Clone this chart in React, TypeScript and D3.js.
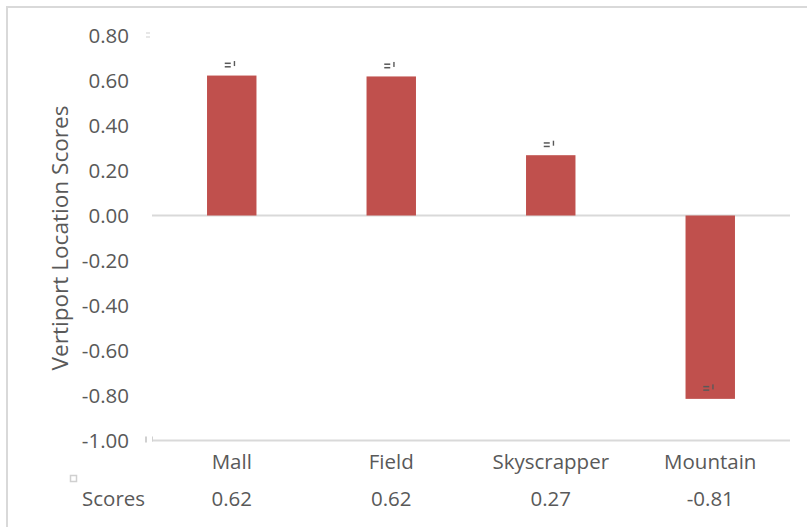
import React from "react";
import * as d3 from "d3";

const categories = ["Mall", "Field", "Skyscrapper", "Mountain"];
const scores = [0.622, 0.618, 0.268, -0.815];
const scoreLabels = ["0.62", "0.62", "0.27", "-0.81"];
const yTicks = [0.8, 0.6, 0.4, 0.2, 0, -0.2, -0.4, -0.6, -0.8, -1.0];
const seriesName = "Scores";
const yTitle = "Vertiport Location Scores";

const W = 807;
const H = 527;
const FONT = "'Open Sans', sans-serif";
const TXT = "#595959";
const fmt = (t: number) => d3.format(".2f")(t).replace("\u2212", "-");

export default function App() {
  const left = 152;
  const right = 790;
  const y = d3.scaleLinear().domain([-1, 0.8]).range([440.5, 35.5]);
  const x = d3.scaleBand().domain(categories).range([left, right]).paddingInner(0.69).paddingOuter(0.345);
  const xc = d3.scaleBand().domain(categories).range([left, right]);
  return (
    <div style={{ position: "absolute", left: 0, top: 0, width: W, height: H, background: "#fff" }}>
      <svg width={W} height={H} style={{ display: "block" }} fontFamily={FONT}>
        <rect x={7} y={7} width={W + 10} height={H + 10} fill="#fff" stroke="#d9d9d9" strokeWidth={2} />
        <line x1={left} x2={right} y1={y(0)} y2={y(0)} stroke="#d9d9d9" strokeWidth={2} />
        <line x1={left} x2={right} y1={y(-1)} y2={y(-1)} stroke="#d9d9d9" strokeWidth={2} />
        <rect x={146} y={y(0.8) - 3} width={4} height={1} fill="#d0d0d0" />
        <rect x={146} y={y(0.8) + 1} width={4} height={1} fill="#d0d0d0" />
        <rect x={145} y={y(-1) - 4} width={2} height={6} fill="#d0d0d0" />
        <rect x={152} y={y(-1) - 4} width={1} height={5} fill="#d0d0d0" />
        {yTicks.map((t) => (
          <text key={t} x={129} y={y(t)} dy="0.36em" textAnchor="end" fontSize={20.5} fill={TXT}>
            {fmt(t)}
          </text>
        ))}
        <text
          transform={`translate(68,${(y(0.8) + y(-1)) / 2}) rotate(-90)`}
          textAnchor="middle"
          fontSize={22.6}
          fill={TXT}
        >
          {yTitle}
        </text>
        {categories.map((c, i) => {
          const v = scores[i];
          const bx = x(c)!;
          const top = y(Math.max(0, v));
          const bot = y(Math.min(0, v));
          const markY = v >= 0 ? top - 13 : bot - 13;
          const cx = bx + x.bandwidth() / 2;
          return (
            <g key={c}>
              <rect x={bx} y={top} width={x.bandwidth()} height={bot - top} fill="#c0504d" />
              <rect x={cx - 7} y={markY} width={6} height={1.5} fill="#595959" />
              <rect x={cx - 7} y={markY + 3.5} width={6} height={1.5} fill="#595959" />
              <rect x={cx + 2} y={markY - 1.5} width={1.4} height={5} fill="#595959" />
              <text x={xc(c)! + xc.bandwidth() / 2} y={y(-1) + 28} textAnchor="middle" fontSize={20.5} fill={TXT}>
                {c}
              </text>
              <text x={xc(c)! + xc.bandwidth() / 2} y={y(-1) + 65} textAnchor="middle" fontSize={20.5} fill={TXT}>
                {scoreLabels[i]}
              </text>
            </g>
          );
        })}
        <rect x={70.5} y={475.5} width={6} height={6} fill="none" stroke="#d0d0d0" strokeWidth={1.5} />
        <text x={82} y={y(-1) + 65} fontSize={20.5} fill={TXT}>
          {seriesName}
        </text>
      </svg>
    </div>
  );
}
